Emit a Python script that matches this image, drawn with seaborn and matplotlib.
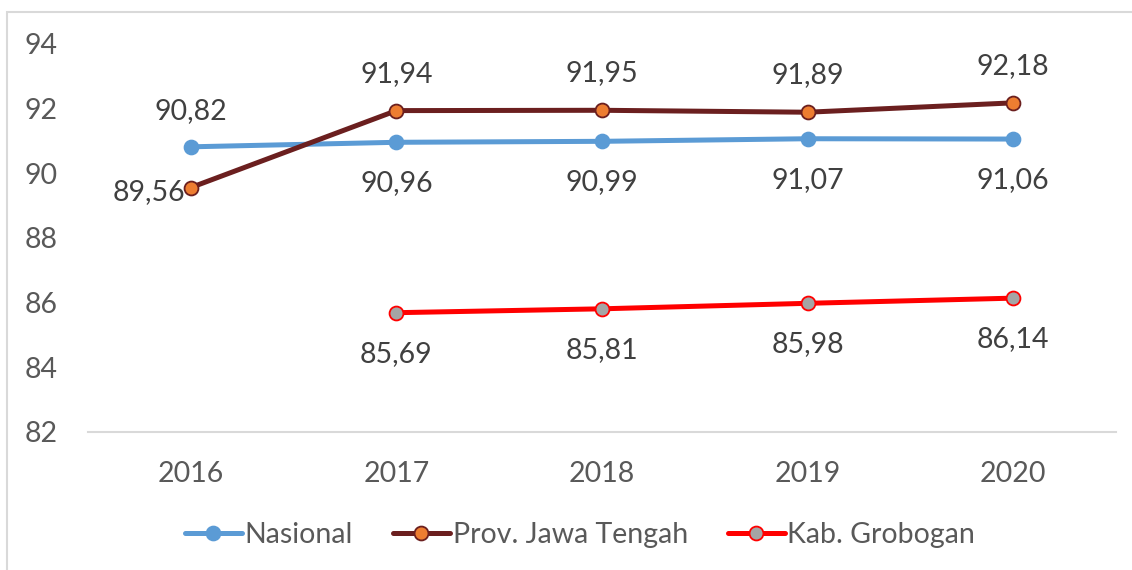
import numpy as np
import pandas as pd
import seaborn as sns
import matplotlib.pyplot as plt
from matplotlib.patches import Rectangle

years = ['2016', '2017', '2018', '2019', '2020']
nasional = [90.82, 90.96, 90.99, 91.07, 91.06]
jateng = [89.56, 91.94, 91.95, 91.89, 92.18]
grobogan = [np.nan, 85.69, 85.81, 85.98, 86.14]

sns.set_theme(style='white')
plt.rcParams['font.family'] = ['Lato', 'DejaVu Sans']

fig = plt.figure(figsize=(11.32, 5.70), dpi=100)
ax = fig.add_axes([88 / 1132, 1 - 432 / 570, (1116 - 88) / 1132, (432 - 44) / 570])

# light chart-area border, cut off at right and bottom like the source
fig.patches.append(Rectangle((7 / 1132, -0.1), 1.2, 1 - 12 / 570 + 0.1,
                             transform=fig.transFigure, fill=False,
                             edgecolor='#D9D9D9', linewidth=1.5, zorder=0))

pos = np.arange(len(years))
series = [
    ('Nasional', nasional, '#5B9BD5', '#5B9BD5', '#5B9BD5'),
    ('Prov. Jawa Tengah', jateng, '#6B1F1F', '#ED7D31', '#6B1F1F'),
    ('Kab. Grobogan', grobogan, '#FF0000', '#A5A5A5', '#FF0000'),
]
for name, vals, lc, mfc, mec in series:
    df = pd.DataFrame({'x': pos, 'y': vals}).dropna()
    sns.lineplot(data=df, x='x', y='y', ax=ax, color=lc, linewidth=3.6,
                 marker='o', markersize=10, markerfacecolor=mfc,
                 markeredgecolor=mec, markeredgewidth=1.3, label=name)

# data labels
fs = 20.5
lab = dict(fontsize=fs, color='#404040', ha='center', va='center')
pt = 0.72  # px -> pt
for i, v in enumerate(nasional):
    dy = 36 if i == 0 else -41
    ax.annotate(f'{v:.2f}'.replace('.', ','), (i, v), xytext=(0, dy * pt),
                textcoords='offset points', **lab)
for i, v in enumerate(jateng):
    if i == 0:
        ax.annotate(f'{v:.2f}'.replace('.', ','), (i, v), xytext=(-42 * pt, -4 * pt),
                    textcoords='offset points', **lab)
    else:
        ax.annotate(f'{v:.2f}'.replace('.', ','), (i, v), xytext=(0, 37 * pt),
                    textcoords='offset points', **lab)
for i, v in enumerate(grobogan):
    if np.isnan(v):
        continue
    ax.annotate(f'{v:.2f}'.replace('.', ','), (i, v), xytext=(0, -41 * pt),
                textcoords='offset points', **lab)

ax.set_xlim(-0.5, 4.5)
ax.set_ylim(82, 94)
ax.set_xticks(pos)
ax.set_xticklabels(years)
ax.set_yticks(np.arange(82, 95, 2))
ax.tick_params(axis='both', length=0, labelsize=fs, labelcolor='#595959')
ax.tick_params(axis='x', pad=21)
ax.tick_params(axis='y', pad=22)
ax.set_xlabel('')
ax.set_ylabel('')
for s in ['top', 'right', 'left']:
    ax.spines[s].set_visible(False)
ax.spines['bottom'].set_color('#D9D9D9')
ax.spines['bottom'].set_linewidth(1.5)
ax.patch.set_alpha(0)

handles, labels = ax.get_legend_handles_labels()
ax.get_legend().remove()
fig.legend(handles, labels, loc='center', bbox_to_anchor=(580 / 1132, 1 - 535 / 570),
           ncol=3, frameon=False, fontsize=fs, labelcolor='#595959',
           handlelength=2.0, handletextpad=0.1, columnspacing=1.4)

fig.savefig('out.png', dpi=100)
